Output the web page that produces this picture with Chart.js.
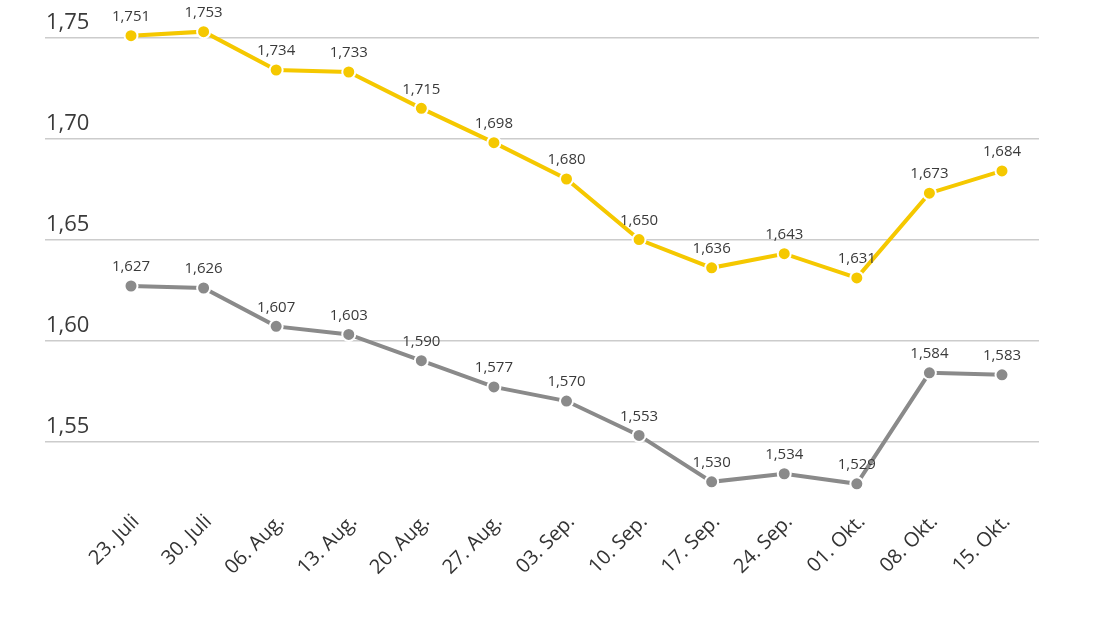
<!DOCTYPE html>
<html>
<head>
<meta charset="utf-8">
<script src="https://cdn.jsdelivr.net/npm/chart.js@4"></script>
<style>
  html, body { margin: 0; padding: 0; background: #fff; }
  #wrap { width: 1100px; height: 618px; }
</style>
</head>
<body>
<div id="wrap"><canvas id="chart" width="1100" height="618"></canvas></div>
<script>
// Werte aus der Vorlage
const categories = ['23. Juli', '30. Juli', '06. Aug.', '13. Aug.', '20. Aug.', '27. Aug.',
    '03. Sep.', '10. Sep.', '17. Sep.', '24. Sep.', '01. Okt.', '08. Okt.', '15. Okt.'];
const seriesYellow = [1.751, 1.753, 1.734, 1.733, 1.715, 1.698, 1.680, 1.650, 1.636, 1.643, 1.631, 1.673, 1.684];
const seriesGray = [1.627, 1.626, 1.607, 1.603, 1.590, 1.577, 1.570, 1.553, 1.530, 1.534, 1.529, 1.584, 1.583];
const yTickValues = [1.55, 1.60, 1.65, 1.70, 1.75];
const yTickLabels = ['1,55', '1,60', '1,65', '1,70', '1,75'];

const FONT = "'Open Sans', 'Noto Sans', sans-serif";
const TEXT = '#3a3a3a';

const toPoints = arr => arr.map((v, i) => ({ x: i, y: v }));
const fmt = v => v.toFixed(3).replace('.', ',');

// Wertbeschriftung über jedem Punkt
const valueLabels = {
    id: 'valueLabels',
    afterDatasetsDraw(chart) {
        const ctx = chart.ctx;
        ctx.save();
        ctx.font = '15px ' + FONT;
        ctx.fillStyle = TEXT;
        ctx.textAlign = 'center';
        ctx.textBaseline = 'middle';
        chart.data.datasets.forEach((ds, di) => {
            const meta = chart.getDatasetMeta(di);
            meta.data.forEach((pt, i) => {
                ctx.fillText(fmt(ds.data[i].y), pt.x, pt.y - 19);
            });
        });
        ctx.restore();
    }
};

new Chart(document.getElementById('chart'), {
    type: 'line',
    data: {
        datasets: [
            {
                data: toPoints(seriesYellow),
                borderColor: '#f5c800',
                backgroundColor: '#f5c800',
                borderWidth: 4,
                pointRadius: 6.5,
                pointBorderColor: '#ffffff',
                pointBorderWidth: 2,
                tension: 0
            },
            {
                data: toPoints(seriesGray),
                borderColor: '#8a8a8a',
                backgroundColor: '#8a8a8a',
                borderWidth: 4,
                pointRadius: 6.5,
                pointBorderColor: '#ffffff',
                pointBorderWidth: 2,
                tension: 0
            }
        ]
    },
    options: {
        responsive: false,
        animation: false,
        layout: { padding: { left: 45, right: 61, top: 17.5, bottom: 0 } },
        plugins: {
            legend: { display: false },
            tooltip: { enabled: false }
        },
        scales: {
            x: {
                type: 'linear',
                min: -1.185,
                max: 12.51,
                grid: { display: false },
                border: { display: false },
                afterBuildTicks: scale => {
                    scale.ticks = categories.map((_, i) => ({ value: i }));
                },
                afterFit: scale => { scale.height = 116; },
                ticks: {
                    autoSkip: false,
                    minRotation: 45,
                    maxRotation: 45,
                    padding: 0,
                    labelOffset: 5,
                    color: '#333333',
                    font: { family: FONT, size: 20 },
                    callback: v => categories[v]
                }
            },
            y: {
                min: 1.52,
                max: 1.76,
                border: { display: false },
                grid: { color: '#cccccc', lineWidth: 1.5, drawTicks: false },
                afterBuildTicks: scale => {
                    scale.ticks = yTickValues.map(v => ({ value: v }));
                },
                afterFit: scale => { scale.width = 0; },
                ticks: {
                    mirror: true,
                    padding: 1,
                    labelOffset: -15,
                    color: TEXT,
                    font: { family: FONT, size: 22 },
                    callback: v => yTickLabels[yTickValues.indexOf(v)] ?? ''
                }
            }
        }
    },
    plugins: [valueLabels]
});
</script>
</body>
</html>
